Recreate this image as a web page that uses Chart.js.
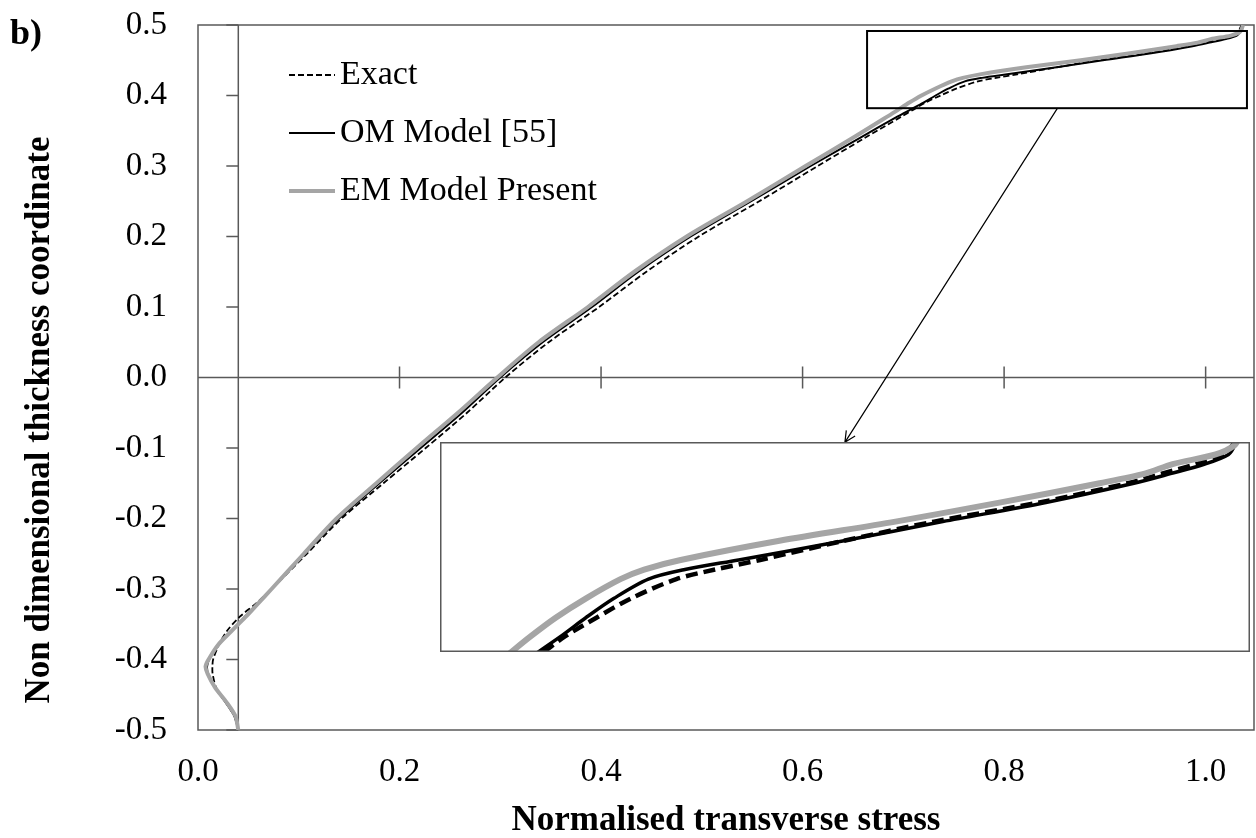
<!DOCTYPE html>
<html>
<head>
<meta charset="utf-8">
<script src="https://cdn.jsdelivr.net/npm/chart.js@4.4.1/dist/chart.umd.min.js"></script>
<style>
  html, body { margin: 0; padding: 0; background: #fff; }
  #wrap  { position: relative; width: 1256px; height: 838px; }
  #main  { position: absolute; left: 0; top: 0; }
  #inset { position: absolute; }
</style>
</head>
<body>
<div id="wrap">
  <canvas id="main" width="1256" height="838"></canvas>
  <canvas id="inset"></canvas>
</div>
<script>
// ═══════════════════════════════════════
//  transverse stress through the thickness
// ═══════════════════════════════════════

// non dimensional thickness coordinate (shared by all three curves)
const zCoord = [
  -0.50, -0.48, -0.46, -0.44, -0.42, -0.41, -0.40, -0.38, -0.36, -0.34, -0.32,
  -0.30, -0.25, -0.20, -0.15, -0.10, -0.05,  0.00,  0.05,  0.10,  0.15,  0.20,
   0.25,  0.30,  0.34,  0.37,  0.38,  0.39,  0.40,  0.41,  0.42,  0.425, 0.43,
   0.44,  0.45,  0.46,  0.47,  0.475, 0.48,  0.485, 0.49,  0.495, 0.50
];

// normalised transverse stress
const exact = [
  0.040, 0.036, 0.027, 0.018, 0.0145, 0.0143, 0.015, 0.0205, 0.0285, 0.041, 0.058,
  0.073, 0.108, 0.1425, 0.184, 0.226, 0.267, 0.305, 0.348, 0.398, 0.445, 0.497,
  0.557, 0.615, 0.662, 0.698, 0.710, 0.722, 0.737, 0.753, 0.774, 0.792, 0.813,
  0.852, 0.894, 0.943, 0.984, 1.000, 1.016, 1.028, 1.033, 1.034, 1.036
];
const omModel = [
  0.040, 0.036, 0.027, 0.017, 0.010, 0.009, 0.011, 0.020, 0.033, 0.046, 0.060,
  0.073, 0.106, 0.140, 0.180, 0.221, 0.262, 0.300, 0.342, 0.391, 0.437, 0.489,
  0.549, 0.608, 0.657, 0.694, 0.707, 0.720, 0.732, 0.745, 0.761, 0.778, 0.803,
  0.852, 0.898, 0.946, 0.987, 1.004, 1.020, 1.031, 1.034, 1.035, 1.036
];
const emModel = [
  0.040, 0.037, 0.028, 0.017, 0.0095, 0.0075, 0.0105, 0.0195, 0.033, 0.047, 0.060,
  0.073, 0.105, 0.1375, 0.177, 0.217, 0.258, 0.297, 0.338, 0.387, 0.433, 0.485,
  0.545, 0.603, 0.650, 0.684, 0.695, 0.706, 0.718, 0.732, 0.748, 0.759, 0.776,
  0.822, 0.876, 0.925, 0.971, 0.992, 1.005, 1.025, 1.034, 1.036, 1.037
];

const seriesNames = ["Exact", "OM Model [55]", "EM Model Present"];
const xTicks = [0.0, 0.2, 0.4, 0.6, 0.8, 1.0];
const yTicks = [-0.5, -0.4, -0.3, -0.2, -0.1, 0.0, 0.1, 0.2, 0.3, 0.4, 0.5];

// axis limits, crossing point, zoom window and where the magnified copy sits
const X_MIN = 0, X_MAX = 1.048, Z_MIN = -0.5, Z_MAX = 0.5;
const Y_AXIS_AT = 0.04;
const zoomX  = [0.664, 1.041], zoomZ  = [0.382, 0.4915];
const insetX = [0.240, 1.044], insetZ = [-0.390, -0.092];
const arrowFrom = [0.853, 0.382], arrowTo = [0.642, -0.092];

const SERIF = "'Liberation Serif', 'Times New Roman', serif";
const AXIS  = "#595959";
const GREY  = "#a5a5a5";

const pts = xs => zCoord.map((z, i) => ({ x: xs[i], y: z }));

function makeDS(label, xs, color, width, dash, order) {
  return {
    label, data: pts(xs),
    borderColor: color, backgroundColor: color,
    borderWidth: width, borderDash: dash,
    pointRadius: 0, fill: false, tension: 0.3, order
  };
}

function datasets(big) {
  return big
    ? [ makeDS(seriesNames[0], exact,   "#000", 4.5, [12, 6], 1),
        makeDS(seriesNames[1], omModel, "#000", 3.5, [],      2),
        makeDS(seriesNames[2], emModel, GREY,   6,   [],      0) ]
    : [ makeDS(seriesNames[0], exact,   "#000", 1.8, [6, 3],  1),
        makeDS(seriesNames[1], omModel, "#000", 2,   [],      2),
        makeDS(seriesNames[2], emModel, GREY,   4,   [],      0) ];
}

const framePlugin = {
  id: "frame",
  beforeDatasetsDraw(chart) {
    const { ctx, chartArea: a, scales: { x, y } } = chart;
    const x0 = x.getPixelForValue(Y_AXIS_AT), y0 = y.getPixelForValue(0);
    ctx.save();
    ctx.strokeStyle = AXIS;
    ctx.lineWidth = 1.5;
    ctx.strokeRect(a.left, a.top, a.width, a.height);
    ctx.beginPath();
    ctx.moveTo(a.left, y0); ctx.lineTo(a.right, y0);
    ctx.moveTo(x0, a.top);  ctx.lineTo(x0, a.bottom);
    xTicks.forEach(v => {
      if (v <= X_MIN) return;
      const px = x.getPixelForValue(v);
      ctx.moveTo(px, y0 - 11); ctx.lineTo(px, y0 + 11);
    });
    yTicks.forEach(v => {
      const py = y.getPixelForValue(v);
      ctx.moveTo(x0 - 12, py); ctx.lineTo(x0, py);
    });
    ctx.stroke();
    ctx.restore();
  },
  afterDatasetsDraw(chart) {
    const { ctx, chartArea: a, scales: { x, y } } = chart;
    ctx.save();

    // zoom window
    const bl = x.getPixelForValue(zoomX[0]), br = x.getPixelForValue(zoomX[1]);
    const bt = y.getPixelForValue(zoomZ[1]), bb = y.getPixelForValue(zoomZ[0]);
    ctx.strokeStyle = "#000";
    ctx.lineWidth = 2;
    ctx.strokeRect(bl, bt, br - bl, bb - bt);

    // arrow to the magnified copy
    const ax1 = x.getPixelForValue(arrowFrom[0]), ay1 = y.getPixelForValue(arrowFrom[1]);
    const ax2 = x.getPixelForValue(arrowTo[0]),   ay2 = y.getPixelForValue(arrowTo[1]);
    const ang = Math.atan2(ay2 - ay1, ax2 - ax1);
    ctx.lineWidth = 1.2;
    ctx.beginPath();
    ctx.moveTo(ax1, ay1); ctx.lineTo(ax2, ay2);
    [-0.45, 0.45].forEach(d => {
      ctx.moveTo(ax2, ay2);
      ctx.lineTo(ax2 - 12 * Math.cos(ang + d), ay2 - 12 * Math.sin(ang + d));
    });
    ctx.stroke();

    // legend
    ctx.font = `34px ${SERIF}`;
    ctx.fillStyle = "#000";
    ctx.textBaseline = "middle";
    ctx.textAlign = "left";
    chart.data.datasets.forEach((ds, i) => {
      const ly = a.top + 50 + i * 58;
      ctx.beginPath();
      ctx.strokeStyle = ds.borderColor;
      ctx.lineWidth = ds.borderWidth;
      ctx.setLineDash(ds.borderDash);
      ctx.moveTo(a.left + 91, ly); ctx.lineTo(a.left + 137, ly);
      ctx.stroke();
      ctx.setLineDash([]);
      ctx.fillText(ds.label, a.left + 142, ly);
    });

    // titles
    ctx.font = `bold 35px ${SERIF}`;
    ctx.textBaseline = "alphabetic";
    ctx.textAlign = "center";
    ctx.fillText("Normalised transverse stress", (a.left + a.right) / 2, 830);
    ctx.save();
    ctx.translate(40, 420);
    ctx.rotate(-Math.PI / 2);
    ctx.textBaseline = "middle";
    ctx.fillText("Non dimensional thickness coordinate", 0, 0);
    ctx.restore();
    ctx.font = `bold 36px ${SERIF}`;
    ctx.textAlign = "left";
    ctx.fillText("b)", 10, 44);

    ctx.restore();
  }
};

const main = new Chart(document.getElementById("main"), {
  type: "line",
  data: { datasets: datasets(false) },
  options: {
    responsive: false,
    animation: false,
    events: [],
    layout: { padding: { top: 25, right: 2, left: 0, bottom: 0 } },
    plugins: { legend: { display: false }, tooltip: { enabled: false } },
    scales: {
      x: {
        type: "linear", min: X_MIN, max: X_MAX,
        grid: { display: false, drawTicks: false }, border: { display: false },
        afterBuildTicks: s => { s.ticks = xTicks.map(v => ({ value: v })); },
        afterFit: s => { s.height = 108; s.paddingLeft = 0; s.paddingRight = 0; },
        ticks: {
          autoSkip: false, maxRotation: 0, padding: 23, color: "#000",
          font: { family: SERIF, size: 33 },
          callback: v => Number(v).toFixed(1)
        }
      },
      y: {
        type: "linear", min: Z_MIN, max: Z_MAX,
        grid: { display: false, drawTicks: false }, border: { display: false },
        afterBuildTicks: s => { s.ticks = yTicks.map(v => ({ value: v })); },
        afterFit: s => { s.width = 198; s.paddingTop = 0; s.paddingBottom = 0; },
        ticks: {
          autoSkip: false, padding: 31, color: "#000",
          font: { family: SERIF, size: 33 },
          callback: v => Number(v).toFixed(1)
        }
      }
    }
  },
  plugins: [framePlugin]
});

// ── magnified copy of the zoom window ──
const insetCanvas = document.getElementById("inset");
const L = main.scales.x.getPixelForValue(insetX[0]);
const R = main.scales.x.getPixelForValue(insetX[1]);
const T = main.scales.y.getPixelForValue(insetZ[1]);
const B = main.scales.y.getPixelForValue(insetZ[0]);
insetCanvas.width  = Math.round(R - L);
insetCanvas.height = Math.round(B - T);
insetCanvas.style.left = Math.round(L) + "px";
insetCanvas.style.top  = Math.round(T) + "px";

const insetFrame = {
  id: "insetFrame",
  beforeDraw(chart) {
    const { ctx, width, height } = chart;
    ctx.save();
    ctx.fillStyle = "#fff";
    ctx.fillRect(0, 0, width, height);
    ctx.restore();
  },
  afterDraw(chart) {
    const { ctx, width, height } = chart;
    ctx.save();
    ctx.strokeStyle = AXIS;
    ctx.lineWidth = 1.5;
    ctx.strokeRect(0.75, 0.75, width - 1.5, height - 1.5);
    ctx.restore();
  }
};

new Chart(insetCanvas, {
  type: "line",
  data: { datasets: datasets(true) },
  options: {
    responsive: false,
    animation: false,
    events: [],
    layout: { padding: 0 },
    plugins: { legend: { display: false }, tooltip: { enabled: false } },
    scales: {
      x: { type: "linear", display: false, min: zoomX[0], max: zoomX[1] },
      y: { type: "linear", display: false, min: zoomZ[0], max: zoomZ[1] }
    }
  },
  plugins: [insetFrame]
});
</script>
</body>
</html>
